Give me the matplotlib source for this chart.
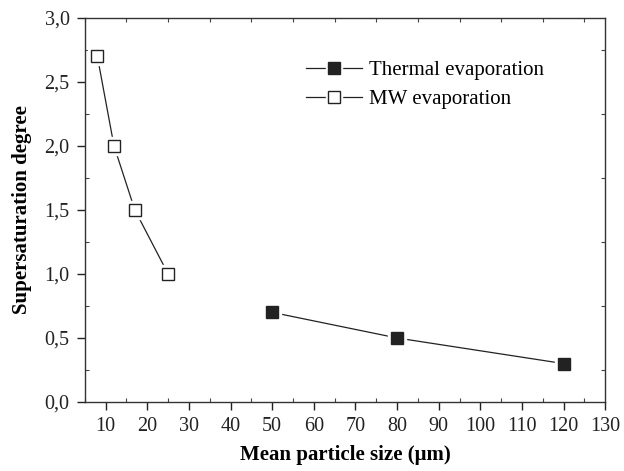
import matplotlib
matplotlib.use("Agg")
import matplotlib.pyplot as plt
from matplotlib.ticker import MultipleLocator, FuncFormatter
from matplotlib.lines import Line2D

# data
mw_size = [8, 12, 17, 25]
mw_sat = [2.7, 2.0, 1.5, 1.0]
th_size = [50, 80, 120]
th_sat = [0.7, 0.5, 0.3]

plt.rcParams['font.family'] = ['Liberation Serif', 'DejaVu Serif']

fig = plt.figure(figsize=(6.24, 4.71), dpi=100)
ax = fig.add_axes([0.136, 0.1465, 0.834, 0.8155])

ms = 8.5
for x, y, face in [(th_size, th_sat, '#222222'), (mw_size, mw_sat, 'white')]:
    ax.plot(x, y, color='#222222', lw=0.9, zorder=2)
    # white square under each marker so the line stops short of it
    ax.plot(x, y, ls='none', marker='s', ms=ms + 5, mfc='white', mec='white', zorder=3)
    ax.plot(x, y, ls='none', marker='s', ms=ms, mfc=face, mec='#222222', mew=1.0, zorder=4)

ax.set_xlim(5, 130)
ax.set_ylim(0, 3.0)
ax.xaxis.set_major_locator(MultipleLocator(10))
ax.xaxis.set_minor_locator(MultipleLocator(5))
ax.yaxis.set_major_locator(MultipleLocator(0.5))
ax.yaxis.set_minor_locator(MultipleLocator(0.25))
ax.yaxis.set_major_formatter(FuncFormatter(lambda v, p: f"{v:.1f}".replace('.', ',')))

ax.tick_params(which='major', direction='out', length=6, width=1.0, labelsize=14.5, colors='#222222',
               pad=5)
ax.tick_params(which='minor', direction='in', length=3, width=0.8, colors='#444444')
ax.tick_params(which='both', top=True, right=True)
ax.tick_params(which='major', top=False, right=False)
for s in ax.spines.values():
    s.set_linewidth(1.0)
    s.set_color('#333333')

ax.set_xlabel('Mean particle size (μm)', fontsize=15, fontweight='bold', labelpad=6)
ax.set_ylabel('Supersaturation degree', fontsize=15, fontweight='bold', labelpad=9)

# legend handles: line, white gap, marker stacked
def handle(face):
    line = Line2D([0], [0], color='#222222', lw=0.9)
    gap = Line2D([0], [0], ls='none', marker='s', ms=12, mfc='white', mec='white')
    mark = Line2D([0], [0], ls='none', marker='s', ms=8, mfc=face, mec='#222222')
    return (line, gap, mark)

ax.legend([handle('#222222'), handle('white')], ['Thermal evaporation', 'MW evaporation'],
          loc='upper left', bbox_to_anchor=(0.389, 0.937), frameon=False, fontsize=15,
          handlelength=2.7, handletextpad=0.3, labelspacing=0.45)

fig.savefig("out.png", dpi=100)
